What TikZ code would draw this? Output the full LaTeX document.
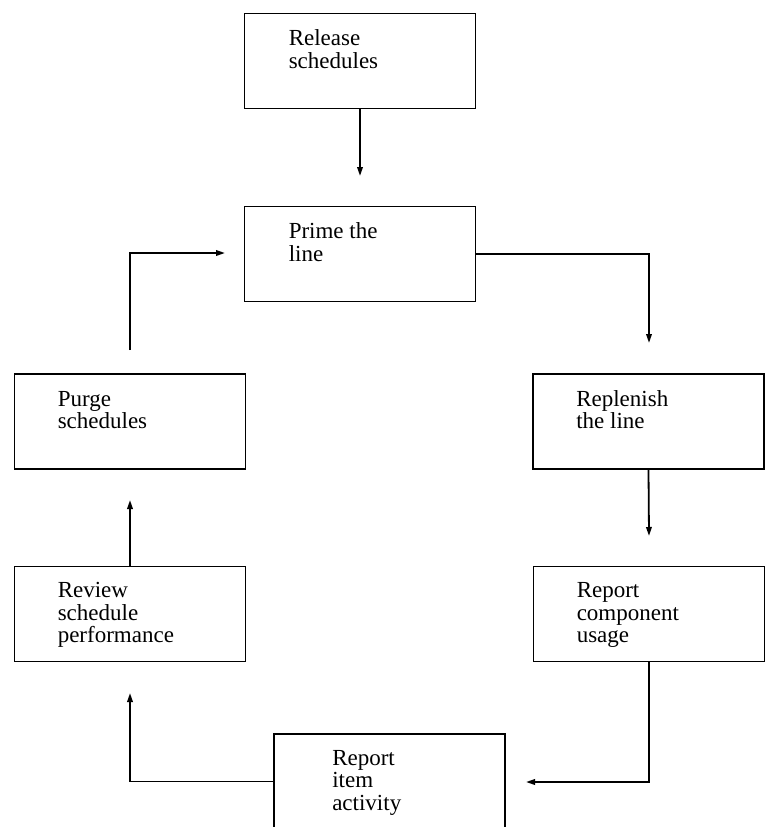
\documentclass[tikz,border=0pt]{standalone}
\usepackage{fontspec}
\setmainfont{Liberation Serif}
\usetikzlibrary{arrows.meta,positioning}

\tikzset{
  box/.style={draw, line width=1.9pt, minimum width=231pt, minimum height=95pt, inner sep=0pt},
  lbl/.style={align=left, inner sep=0pt, anchor=base west, font=\fontsize{23}{22.5}\selectfont},
  flow/.style={line width=1.8pt, -{Triangle[length=9pt,width=5.5pt]}}
}

\begin{document}
\begin{tikzpicture}[x=1pt, y=-1pt]
      \useasboundingbox (0, 0) rectangle (766, 827);
      % the boxes
      \node (release) [box] at (360, 61) {};
      \node (prime) [box] at (360, 254) {};
      \node (purge) [box] at (130, 421.5) {};
      \node (replenish) [box] at (648.5, 421.5) {};
      \node (review) [box] at (130, 614) {};
      \node (component) [box] at (649, 614) {};
      \node (item) [box] at (389.5, 781.5) {};
      % their texts (anchored on the last line)
      \node (release-t) [lbl] at ([shift={(45, 55.5)}] release.north west) {Release\\schedules};
      \node (prime-t) [lbl] at ([shift={(45, 55.5)}] prime.north west) {Prime the\\line};
      \node (purge-t) [lbl] at ([shift={(44, 55.5)}] purge.north west) {Purge\\schedules};
      \node (replenish-t) [lbl] at ([shift={(44, 55.5)}] replenish.north west) {Replenish\\the line};
      \node (review-t) [lbl] at ([shift={(44, 77)}] review.north west) {Review\\schedule\\performance};
      \node (component-t) [lbl] at ([shift={(44, 77)}] component.north west) {Report\\component\\usage};
      \node (item-t) [lbl] at ([shift={(59, 77)}] item.north west) {Report\\item\\activity};
      % free arrow ends
      \coordinate (prime-in) at (360, 176);
      \coordinate (purge-out) at (130, 350);
      \coordinate (prime-left) at (225, 253);
      \coordinate (replenish-in) at (649, 343);
      \coordinate (component-in) at (649, 536);
      \coordinate (item-in) at (526, 782);
      \coordinate (review-in) at (130, 693);
      \coordinate (purge-in) at (130, 500);
      % the flow
      \draw[flow] (release.south) -- (prime-in);
      \draw[flow] (purge-out) |- (prime-left);
      \draw[flow] (prime.east) -| (replenish-in);
      \draw[flow] (replenish.south) -- (component-in);
      \draw[flow] (component.south) |- (item-in);
      \draw[flow] (item.west) -| (review-in);
      \draw[flow] (review.north) -- (purge-in);
\end{tikzpicture}
\end{document}
